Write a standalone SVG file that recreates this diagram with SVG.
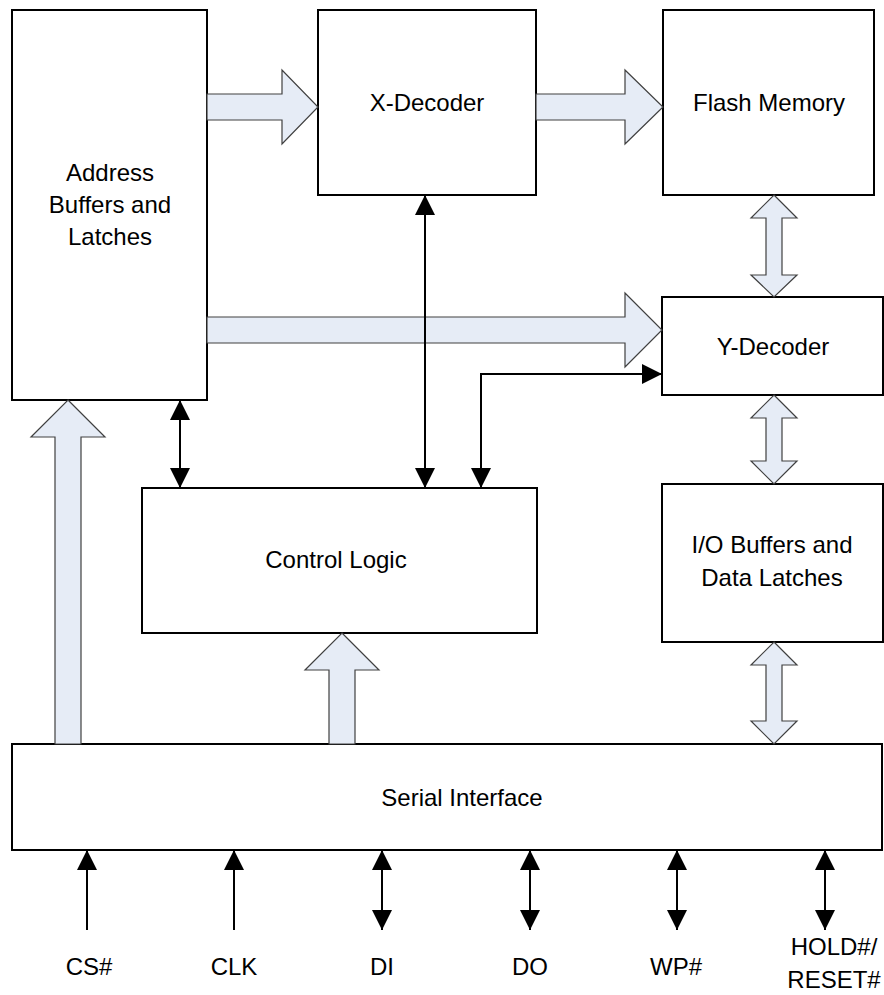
<svg xmlns="http://www.w3.org/2000/svg" width="884" height="995" viewBox="0 0 884 995">
<style>
.box{fill:#fff;stroke:#000;stroke-width:2}
.lbl{font-family:"Liberation Sans",Arial,sans-serif;font-size:24px;fill:#000;text-anchor:middle}
.fat{fill:#E6ECF6;stroke:#404040;stroke-width:1.2;stroke-linejoin:miter}
.ln{fill:none;stroke:#000;stroke-width:2}
</style>
<defs>
<marker id="ah" viewBox="0 0 20 20" refX="20" refY="10" markerWidth="20" markerHeight="20" markerUnits="userSpaceOnUse" orient="auto-start-reverse">
<path d="M0,0 L20,10 L0,20 z" fill="#000"/>
</marker>
</defs>
<rect width="884" height="995" fill="#fff"/>
<g id="address-buffers">
<rect class="box" x="12" y="10" width="195" height="390"/>
<text class="lbl" x="110" y="181">Address</text>
<text class="lbl" x="110" y="213">Buffers and</text>
<text class="lbl" x="110" y="245">Latches</text>
</g>
<g id="x-decoder">
<rect class="box" x="318" y="10" width="218" height="185"/>
<text class="lbl" x="427" y="111">X-Decoder</text>
</g>
<g id="flash-memory">
<rect class="box" x="663" y="10" width="211" height="185"/>
<text class="lbl" x="769" y="111">Flash Memory</text>
</g>
<g id="y-decoder">
<rect class="box" x="662" y="297" width="221" height="98"/>
<text class="lbl" x="773" y="355">Y-Decoder</text>
</g>
<g id="io-buffers">
<rect class="box" x="662" y="484" width="221" height="158"/>
<text class="lbl" x="772" y="553">I/O Buffers and</text>
<text class="lbl" x="772" y="586">Data Latches</text>
</g>
<g id="control-logic">
<rect class="box" x="142" y="488" width="395" height="145"/>
<text class="lbl" x="336" y="568">Control Logic</text>
</g>
<g id="serial-interface">
<rect class="box" x="12" y="744" width="870" height="106"/>
<text class="lbl" x="462" y="806">Serial Interface</text>
</g>
<g id="pins">
<text class="lbl" x="89" y="975">CS#</text>
<text class="lbl" x="234" y="975">CLK</text>
<text class="lbl" x="382" y="975">DI</text>
<text class="lbl" x="530" y="975">DO</text>
<text class="lbl" x="676" y="975">WP#</text>
<text class="lbl" x="834" y="955">HOLD#/</text>
<text class="lbl" x="834" y="988">RESET#</text>
</g>
<g id="connectors">
<polygon class="fat" points="207,94 282,94 282,70 318,107 282,144 282,120 207,120"/>
<polygon class="fat" points="536,94 625,94 625,70 663,107 625,144 625,120 536,120"/>
<polygon class="fat" points="207,317 625,317 625,293 662,330 625,367 625,343 207,343"/>
<polygon class="fat" points="774,195 797,218 782,218 782,275 797,275 774,297 751,275 766,275 766,218 751,218"/>
<polygon class="fat" points="774,395 797,418 782,418 782,461 797,461 774,484 751,461 766,461 766,418 751,418"/>
<polygon class="fat" points="774,642 797,665 782,665 782,721 797,721 774,744 751,721 766,721 766,665 751,665"/>
<polygon class="fat" points="68,400 105,437 81,437 81,744 55,744 55,437 31,437"/>
<polygon class="fat" points="342,633 379,670 355,670 355,744 329,744 329,670 305,670"/>
<line class="ln" x1="180" y1="400" x2="180" y2="488" marker-start="url(#ah)" marker-end="url(#ah)"/>
<line class="ln" x1="425" y1="195" x2="425" y2="488" marker-start="url(#ah)" marker-end="url(#ah)"/>
<polyline class="ln" points="481,488 481,374 662,374" marker-start="url(#ah)" marker-end="url(#ah)"/>
<line class="ln" x1="87" y1="930" x2="87" y2="850" marker-end="url(#ah)"/>
<line class="ln" x1="234" y1="930" x2="234" y2="850" marker-end="url(#ah)"/>
<line class="ln" x1="382" y1="930" x2="382" y2="850" marker-start="url(#ah)" marker-end="url(#ah)"/>
<line class="ln" x1="530" y1="930" x2="530" y2="850" marker-start="url(#ah)" marker-end="url(#ah)"/>
<line class="ln" x1="677" y1="930" x2="677" y2="850" marker-start="url(#ah)" marker-end="url(#ah)"/>
<line class="ln" x1="825" y1="930" x2="825" y2="850" marker-start="url(#ah)" marker-end="url(#ah)"/>
</g>
</svg>
